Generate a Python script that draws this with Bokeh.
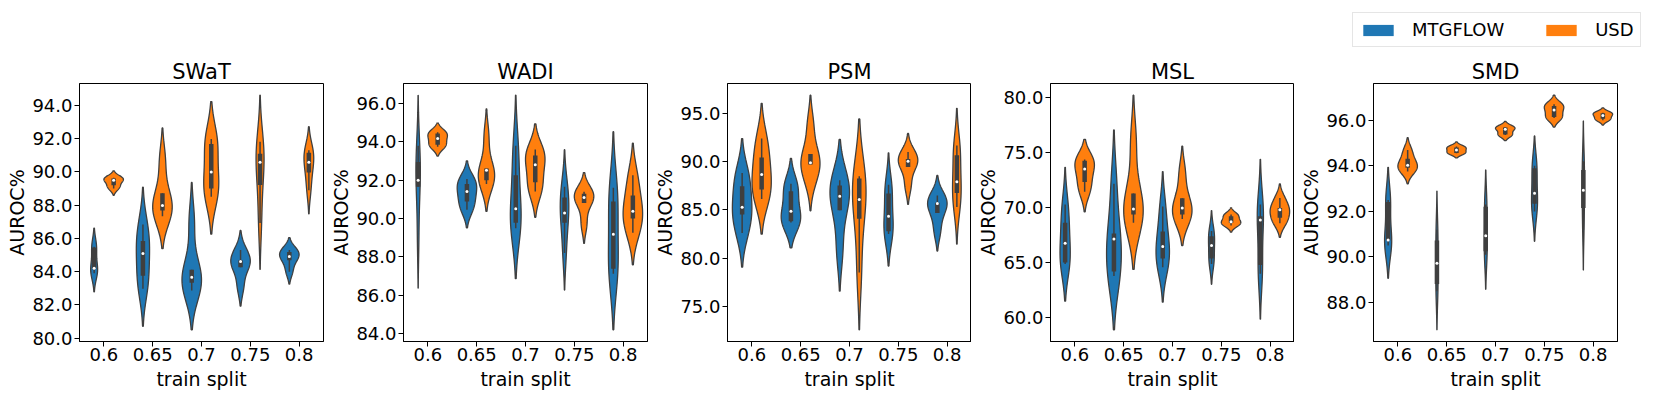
import numpy as np
from bokeh.plotting import figure
from bokeh.layouts import row, column
from bokeh.models import Range1d, FixedTicker, NumeralTickFormatter, Legend, LegendItem
from bokeh.embed import file_html
from bokeh.resources import INLINE

# ---------------- data (AUROC% runs per train split) -------------
SPLITS = ["0.6", "0.65", "0.7", "0.75", "0.8"]
METHODS = ["MTGFLOW", "USD"]
DATASETS = ["SWaT", "WADI", "PSM", "MSL", "SMD"]

SWAT_MTGFLOW = [[83.9, 84.15, 84.2, 85.45, 85.5],
                [82.97, 83.76, 85.09, 85.84, 86.83],
                [82.87, 83.33, 83.66, 84.12, 87.0],
                [83.1, 84.26, 84.61, 84.69, 85.3],
                [84.0, 84.69, 84.91, 85.19, 85.3]]
SWAT_USD = [[89.0, 89.2, 89.5, 89.6, 89.65],
            [87.33, 87.68, 87.98, 88.71, 90.7],
            [88.51, 89.01, 90.0, 91.68, 91.98],
            [86.93, 89.21, 90.59, 91.09, 91.82],
            [88.9, 89.96, 90.59, 91.15, 91.3]]

WADI_MTGFLOW = [[89.0, 91.66, 92.0, 92.95, 93.8],
                [90.46, 90.89, 91.41, 91.8, 92.06],
                [89.5, 89.78, 90.51, 92.26, 93.8],
                [88.2, 89.78, 90.29, 91.1, 91.66],
                [87.12, 87.38, 89.18, 90.89, 91.61]]
WADI_USD = [[93.75, 93.86, 94.18, 94.44, 94.5],
            [91.8, 92.0, 92.52, 92.61, 94.3],
            [91.41, 91.89, 92.81, 93.29, 93.6],
            [89.7, 90.81, 91.1, 91.29, 91.4],
            [89.26, 90.0, 90.38, 91.2, 92.26]]

PSM_MTGFLOW = [[82.61, 84.52, 85.28, 87.46, 88.84],
               [83.7, 83.82, 84.86, 86.94, 87.7],
               [80.8, 84.97, 86.42, 87.53, 88.08],
               [82.5, 82.79, 84.34, 86.7, 87.6],
               [82.8, 84.69, 85.66, 85.73, 86.5]]
PSM_USD = [[86.14, 87.11, 88.67, 90.43, 92.4],
           [88.0, 89.71, 89.88, 90.81, 93.8],
           [78.5, 84.07, 86.07, 88.25, 88.5],
           [87.5, 89.46, 90.05, 90.29, 91.0],
           [85.31, 86.76, 87.91, 90.67, 91.68]]

MSL_MTGFLOW = [[64.9, 65.04, 66.79, 68.65, 70.3],
               [63.8, 64.21, 67.17, 67.67, 72.2],
               [64.59, 65.39, 66.49, 67.85, 70.13],
               [64.9, 65.39, 66.58, 67.41, 67.9],
               [64.0, 64.8, 68.9, 69.24, 70.3]]
MSL_USD = [[71.47, 72.36, 73.54, 74.28, 74.4],
           [68.65, 69.39, 69.9, 71.32, 76.0],
           [69.0, 69.39, 69.99, 70.87, 73.2],
           [68.4, 68.65, 68.74, 69.24, 69.4],
           [68.6, 69.1, 69.84, 69.99, 70.9]]

SMD_MTGFLOW = [[90.5, 90.72, 90.75, 92.41, 92.5],
               [88.5, 88.82, 89.73, 90.72, 91.2],
               [90.1, 90.25, 90.93, 92.2, 92.3],
               [92.0, 92.34, 92.8, 93.89, 94.0],
               [91.2, 92.15, 92.93, 93.82, 94.2]]
SMD_USD = [[93.75, 93.92, 94.03, 94.31, 94.7],
           [94.55, 94.56, 94.7, 94.8, 94.85],
           [95.35, 95.37, 95.61, 95.68, 95.7],
           [96.1, 96.14, 96.45, 96.63, 96.7],
           [96.0, 96.07, 96.21, 96.31, 96.33]]

SERIES = {
    "SWaT": (SWAT_MTGFLOW, SWAT_USD),
    "WADI": (WADI_MTGFLOW, WADI_USD),
    "PSM": (PSM_MTGFLOW, PSM_USD),
    "MSL": (MSL_MTGFLOW, MSL_USD),
    "SMD": (SMD_MTGFLOW, SMD_USD),
}
Y_TICKS = {
    "SWaT": [80, 82, 84, 86, 88, 90, 92, 94],
    "WADI": [84, 86, 88, 90, 92, 94, 96],
    "PSM": [75, 80, 85, 90, 95],
    "MSL": [60, 65, 70, 75, 80],
    "SMD": [88, 90, 92, 94, 96],
}

COLORS = ["#1f77b4", "#ff7f0e"]
GRAY = "#3f3f3f"
FONT = "DejaVu Sans"


def kde(values, cut=2.0, gridsize=100):
    d = np.asarray(values, float)
    n = len(d)
    bw = n ** (-1.0 / 5) * d.std(ddof=1)
    support = np.linspace(d.min() - cut * bw, d.max() + cut * bw, gridsize)
    z = (support[:, None] - d[None, :]) / bw
    dens = np.exp(-0.5 * z ** 2).sum(axis=1) / (n * bw * np.sqrt(2 * np.pi))
    return support, dens


def box_stats(values):
    d = np.asarray(values, float)
    q25, q50, q75 = np.percentile(d, [25, 50, 75])
    lim = 1.5 * (q75 - q25)
    h1 = d[d >= q25 - lim].min()
    h2 = d[d <= q75 + lim].max()
    return h1, q25, q50, q75, h2


LEGEND_H = 50
LEFT, FRAME_W, TOP, FRAME_H, BOTTOM = 79, 244, 83 - LEGEND_H, 258, 55
WIDTHS = [324, 324, 323, 323, 360]

# ---------------- legend strip -------------
lp = figure(width=1660, height=LEGEND_H, output_backend="svg", toolbar_location=None,
            min_border=0, x_range=Range1d(0, 1), y_range=Range1d(0, 1))
lp.axis.visible = False
lp.grid.visible = False
lp.outline_line_color = None
# legend proxies: one swatch each, placed outside the visible range so only the legend shows them
rb = lp.quad(left=[2], right=[3], top=[3], bottom=[2], fill_color=COLORS[0], line_color=None)
ro = lp.quad(left=[2], right=[3], top=[3], bottom=[2], fill_color=COLORS[1], line_color=None)
leg = Legend(items=[LegendItem(label=METHODS[0], renderers=[rb]),
                    LegendItem(label=METHODS[1], renderers=[ro])],
             location=(1352, LEGEND_H - 15 - 32), orientation="horizontal",
             glyph_width=38, glyph_height=14, label_standoff=15, spacing=38,
             padding=6, margin=0, border_line_color="#cccccc", border_line_width=1,
             label_text_font=FONT, label_text_font_size="18px",
             label_text_color="black", background_fill_alpha=1.0)
lp.add_layout(leg)

figs = []
for k, name in enumerate(DATASETS):
    groups = SERIES[name]
    violins = []
    lo, hi = np.inf, -np.inf
    for i in range(len(SPLITS)):
        curves = [kde(groups[h][i]) for h in range(2)]
        peak = max(c[1].max() for c in curves)
        for h in range(2):
            s, dns = curves[h]
            center = i + (-0.2 if h == 0 else 0.2)
            violins.append((center, s, dns / peak * 0.2, box_stats(groups[h][i]), COLORS[h]))
            lo, hi = min(lo, s.min()), max(hi, s.max())
    pad = 0.05 * (hi - lo)

    right = WIDTHS[k] - LEFT - FRAME_W
    p = figure(width=WIDTHS[k], height=TOP + FRAME_H + BOTTOM,
               x_range=Range1d(-0.5, 4.5), y_range=Range1d(lo - pad, hi + pad),
               output_backend="svg", toolbar_location=None, title=name,
               min_border_left=LEFT, min_border_right=right,
               min_border_top=TOP, min_border_bottom=BOTTOM)
    p.xgrid.visible = False
    p.ygrid.visible = False
    p.outline_line_color = "black"
    p.outline_line_width = 1
    p.background_fill_color = "white"
    p.border_fill_color = "white"

    p.title.text_font = FONT
    p.title.text_font_size = "21px"
    p.title.text_font_style = "normal"
    p.title.align = "center"
    p.title.standoff = 0
    p.title.text_color = "black"

    for ax in (p.xaxis[0], p.yaxis[0]):
        ax.major_label_text_font = FONT
        ax.major_label_text_font_size = "18px"
        ax.major_label_text_color = "black"
        ax.axis_label_text_font = FONT
        ax.axis_label_text_font_size = "19px"
        ax.axis_label_text_font_style = "normal"
        ax.axis_label_text_color = "black"
        ax.minor_tick_line_color = None
        ax.major_tick_in = 0
        ax.major_tick_out = 5
        ax.major_tick_line_color = "black"
        ax.axis_line_color = "black"
        ax.major_label_standoff = 1

    p.xaxis.ticker = FixedTicker(ticks=list(range(len(SPLITS))))
    p.xaxis.major_label_overrides = {i: s for i, s in enumerate(SPLITS)}
    p.xaxis.axis_label = "train split"
    p.xaxis.axis_label_standoff = 4
    p.yaxis.ticker = FixedTicker(ticks=Y_TICKS[name])
    p.yaxis.formatter = NumeralTickFormatter(format="0.0")
    p.yaxis.axis_label = "AUROC%"
    p.yaxis.major_label_standoff = 2
    p.yaxis.axis_label_standoff = 1

    for center, s, hw, st, col in violins:
        xs = np.concatenate([center - hw, (center + hw)[::-1]])
        ys = np.concatenate([s, s[::-1]])
        p.patch(xs, ys, fill_color=col, line_color=GRAY, line_width=1.3)
    for center, s, hw, st, col in violins:
        h1, q25, q50, q75, h2 = st
        p.segment(x0=[center], y0=[h1], x1=[center], y1=[h2], line_color=GRAY, line_width=1.5)
        p.segment(x0=[center], y0=[q25], x1=[center], y1=[q75], line_color=GRAY, line_width=4.5)
        p.scatter(x=[center], y=[q50], size=3.0, fill_color="white", line_color=None)
    figs.append(p)

layout = column(lp, row(*figs))
open("out.html", "w").write(file_html(layout, INLINE))
